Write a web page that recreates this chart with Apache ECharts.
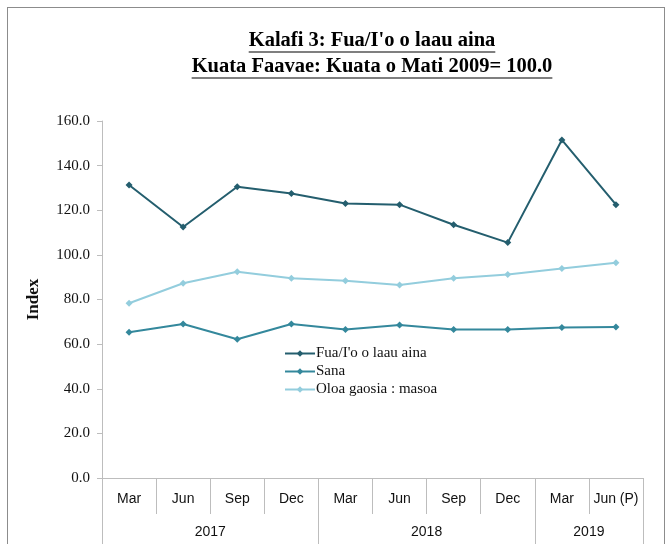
<!DOCTYPE html>
<html lang="en">
<head>
  <meta charset="UTF-8">
  <title>Kalafi 3</title>
  <style>
  html, body {
    margin: 0;
    padding: 0;
    width: 100%;
    height: 100%;
    background: #fff;
  }
  .frame {
    position: absolute;
    left: 7px;
    top: 7px;
    width: 656px;
    height: 560px;
    border: 1px solid #8c8c8c;
  }
  .main {
    position: absolute;
    left: 0;
    top: 0;
    width: 670px;
    height: 544px;
  }
  </style>
</head>
<body>
<div class="frame"></div>
<div class="main"></div>
<script src="https://cdn.jsdelivr.net/npm/echarts@6/dist/echarts.min.js"></script>
<script>
var months = ['Mar', 'Jun', 'Sep', 'Dec', 'Mar', 'Jun', 'Sep', 'Dec', 'Mar', 'Jun (P)'];
var years = ['2017', '2018', '2019'];
var yearSpans = [4, 4, 2];

var fuaValues = [131.3, 112.5, 130.5, 127.5, 123.0, 122.5, 113.5, 105.5, 151.5, 122.5];
var sanaValues = [65.3, 69.0, 62.2, 69.0, 66.6, 68.6, 66.6, 66.6, 67.4, 67.7];
var oloaValues = [78.3, 87.3, 92.4, 89.5, 88.4, 86.5, 89.5, 91.2, 93.9, 96.5];

var titleLines = ['Kalafi 3: Fua/I\'o o laau aina', 'Kuata Faavae: Kuata o Mati 2009= 100.0'];

var serif = '"Liberation Serif", "DejaVu Serif", serif';
var narrow = '"Liberation Sans Narrow", "Liberation Sans", sans-serif';

// year boundaries and label centres on a 0..10 value scale
var yearTicks = [0], yearCenters = [], acc = 0;
yearSpans.forEach(function (s) {
  yearCenters.push(acc + s / 2);
  acc += s;
  yearTicks.push(acc);
});

// measure title text for the underline
var titleFont = 'bold 20.5px ' + serif;
var ctx = document.createElement('canvas').getContext('2d');
ctx.font = titleFont;
var titleGraphics = [];
titleLines.forEach(function (t, i) {
  var w = ctx.measureText(t).width;
  var cy = 42 + i * 26;
  titleGraphics.push({
    type: 'text',
    left: 372 - w / 2,
    top: cy - 12,
    style: { text: t, font: titleFont, fill: '#000' }
  });
  titleGraphics.push({
    type: 'line',
    shape: { x1: 372 - w / 2, y1: cy + 10, x2: 372 + w / 2, y2: cy + 10 },
    style: { stroke: '#000', lineWidth: 1.2 }
  });
});

var chart = echarts.init(document.querySelector('.main'));

function lineSeries(name, data, color) {
  return {
    name: name,
    type: 'line',
    data: data,
    symbol: 'diamond',
    symbolSize: 7,
    lineStyle: { color: color, width: 2 },
    itemStyle: { color: color },
    emphasis: { disabled: true }
  };
}

chart.setOption({
  animation: false,
  graphic: titleGraphics,
  grid: { left: 102, right: 27, top: 121, bottom: 66 },
  legend: {
    orient: 'vertical',
    left: 279,
    top: 341,
    itemGap: 3,
    itemWidth: 30,
    itemHeight: 8,
    textStyle: { fontFamily: serif, fontSize: 15, color: '#111', padding: [0, 0, 0, -4] },
    data: ['Fua/I\'o o laau aina', 'Sana', 'Oloa gaosia : masoa']
  },
  xAxis: [{
    type: 'category',
    data: months,
    boundaryGap: true,
    axisLine: { lineStyle: { color: '#bdbdbd' } },
    axisTick: { show: true, interval: 0, length: 36, lineStyle: { color: '#bdbdbd' } },
    axisLabel: { interval: 0, fontFamily: narrow, fontSize: 14, color: '#111', margin: 14 }
  }, {
    type: 'value',
    position: 'bottom',
    offset: 36,
    min: 0,
    max: 10,
    axisLine: { show: false },
    splitLine: { show: false },
    axisTick: { show: true, customValues: yearTicks, length: 32, lineStyle: { color: '#bdbdbd' } },
    axisLabel: {
      customValues: yearCenters,
      fontFamily: narrow, fontSize: 14, color: '#111', margin: 11,
      formatter: function (v) { return years[yearCenters.indexOf(v)]; }
    }
  }],
  yAxis: {
    type: 'value',
    min: 0,
    max: 160,
    interval: 20,
    name: 'Index',
    nameLocation: 'middle',
    nameGap: 60,
    nameTextStyle: { fontFamily: serif, fontSize: 17, fontWeight: 'bold', color: '#111' },
    axisLine: { show: true, lineStyle: { color: '#bdbdbd' } },
    axisTick: { show: true, length: 5, lineStyle: { color: '#bdbdbd' } },
    splitLine: { show: false },
    axisLabel: {
      fontFamily: serif, fontSize: 15, color: '#111', margin: 12,
      formatter: function (v) { return v.toFixed(1); }
    }
  },
  series: [
    lineSeries('Fua/I\'o o laau aina', fuaValues, '#245e6e'),
    lineSeries('Sana', sanaValues, '#34889c'),
    lineSeries('Oloa gaosia : masoa', oloaValues, '#93cddd')
  ]
});
</script>
</body>
</html>
